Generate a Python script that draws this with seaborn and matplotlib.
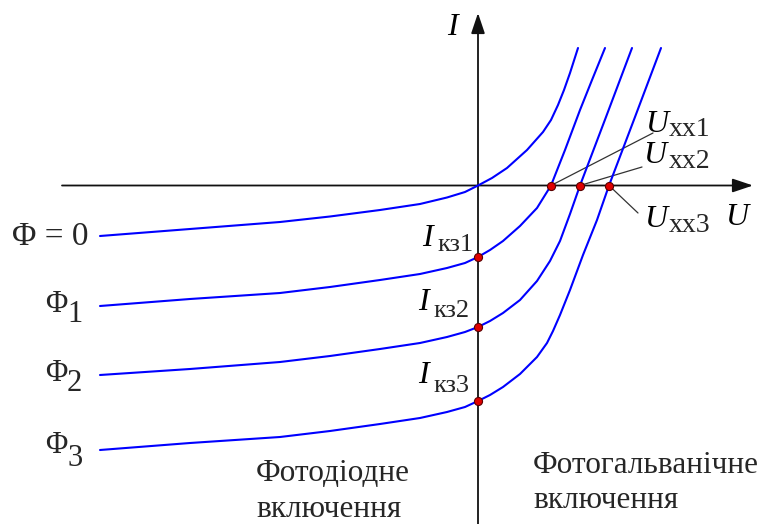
import matplotlib
matplotlib.use("Agg")
import matplotlib.pyplot as plt
import seaborn as sns
import pandas as pd

# Photodiode I-V characteristics for increasing light flux (Φ = 0, Φ1, Φ2, Φ3)
u_phi0 = [-3.78, -2.88, -1.98, -1.48, -0.98, -0.58, -0.31, -0.13, 0.00, 0.14,
          0.29, 0.49, 0.65, 0.73, 0.80, 0.86, 0.92, 1.00]
i_phi0 = [-0.505, -0.435, -0.365, -0.31, -0.245, -0.185, -0.12, -0.065, 0.0, 0.075,
          0.175, 0.355, 0.535, 0.655, 0.805, 0.955, 1.125, 1.375]

u_phi1 = [-3.78, -2.88, -1.98, -1.48, -0.98, -0.58, -0.31, -0.13, 0.00, 0.12,
          0.25, 0.42, 0.59, 0.73, 0.87, 1.02, 1.14, 1.27]
i_phi1 = [-1.205, -1.135, -1.075, -1.015, -0.945, -0.885, -0.825, -0.775, -0.715, -0.645,
          -0.555, -0.405, -0.225, 0.0, 0.355, 0.755, 1.055, 1.375]

u_phi2 = [-3.78, -2.88, -1.98, -1.48, -0.98, -0.58, -0.31, -0.13, 0.00, 0.12,
          0.25, 0.42, 0.59, 0.72, 0.82, 0.92, 1.02, 1.28, 1.54]
i_phi2 = [-1.895, -1.835, -1.765, -1.705, -1.635, -1.575, -1.515, -1.465, -1.415, -1.355,
          -1.275, -1.145, -0.955, -0.755, -0.555, -0.285, 0.0, 0.685, 1.375]

u_phi3 = [-3.78, -2.88, -1.98, -1.48, -0.98, -0.58, -0.31, -0.13, 0.00, 0.12,
          0.25, 0.42, 0.59, 0.69, 0.75, 0.82, 0.92, 1.05, 1.19, 1.31, 1.57, 1.83]
i_phi3 = [-2.645, -2.575, -2.515, -2.455, -2.385, -2.325, -2.265, -2.215, -2.155, -2.095,
          -2.015, -1.885, -1.715, -1.575, -1.455, -1.295, -1.045, -0.695, -0.345, 0.0, 0.685, 1.375]

# Short-circuit currents and open-circuit voltages
i_kz = [-0.715, -1.415, -2.155]
u_xx = [0.73, 1.02, 1.31]

flux_labels = ["Φ", "Φ", "Φ"]
flux_subs = ["1", "2", "3"]
isc_subs = ["кз1", "кз2", "кз3"]
uoc_subs = ["хх1", "хх2", "хх3"]

sns.set_theme(style="white")
plt.rcParams["font.family"] = ["Liberation Serif", "DejaVu Serif"]

fig = plt.figure(figsize=(7.65, 5.24), dpi=100)
ax = fig.add_axes([0, 0, 1, 1])
ax.set_xlim(-4.78, 2.87)
ax.set_ylim(-3.385, 1.855)
ax.axis("off")

# Coordinate axes with arrow heads
axis_kw = dict(arrowstyle="-|>,head_length=1.25,head_width=0.42", color="#111111",
               lw=1.3, mutation_scale=10, shrinkA=0, shrinkB=0)
ax.annotate("", xy=(2.75, 0), xytext=(-4.16, 0), arrowprops=axis_kw, zorder=2)
ax.annotate("", xy=(0, 1.725), xytext=(0, -3.385), arrowprops=axis_kw, zorder=2)

# Characteristic curves
curves = [(u_phi0, i_phi0), (u_phi1, i_phi1), (u_phi2, i_phi2), (u_phi3, i_phi3)]
for k, (u, i) in enumerate(curves):
    df = pd.DataFrame({"U": u, "I": i})
    sns.lineplot(data=df, x="U", y="I", sort=False, estimator=None, color="#0000ff",
                 lw=1.5, ax=ax, zorder=3)

# Leader lines to the open-circuit voltage labels
leader_ends = [(1.75, 0.525), (1.64, 0.185), (1.60, -0.275)]
for ux, (ex, ey) in zip(u_xx, leader_ends):
    ax.plot([ux, ex], [0, ey], color="#333333", lw=0.9, zorder=2)

# Marked points on the axes
pts = pd.DataFrame({"U": [0, 0, 0] + u_xx, "I": i_kz + [0, 0, 0]})
sns.scatterplot(data=pts, x="U", y="I", color="#e00000", edgecolor="#5a0000",
                linewidth=0.8, s=34, ax=ax, zorder=5)

main_fs = 23
ital = dict(style="italic", fontsize=main_fs, va="baseline", ha="left", color="black")

# Axis names
ax.text(-0.31, 1.505, "I", **ital)
ax.text(2.47, -0.395, "U", **ital)

# Open-circuit voltage labels
uoc_pos = [(1.67, 0.535, 0.50), (1.65, 0.225, 0.17), (1.66, -0.415, -0.47)]
for (x, yb, ys), s in zip(uoc_pos, uoc_subs):
    ax.text(x, yb, "U", **ital)
    ax.text(1.905, ys, s, fontsize=20, va="baseline", ha="left")

# Short-circuit current labels
isc_pos = [(-0.56, -0.605, -0.41, -0.655), (-0.60, -1.245, -0.45, -1.315),
           (-0.60, -1.975, -0.45, -2.065)]
for (x, yb, xs, ys), s in zip(isc_pos, isc_subs):
    ax.text(x, yb, "I", **ital)
    ax.text(xs, ys, s, fontsize=19, va="baseline", ha="left")

# Light flux labels
ax.text(-4.66, -0.595, "Φ = 0", fontsize=24, va="baseline", ha="left")
flux_pos = [(-1.265, -1.365), (-1.955, -2.055), (-2.675, -2.805)]
for (yb, ys), f, s in zip(flux_pos, flux_labels, flux_subs):
    ax.text(-4.33, yb, f, fontsize=22, va="baseline", ha="left")
    ax.text(-4.11, ys, s, fontsize=22, va="baseline", ha="left")

# Operating mode captions
cap_fs = 22.5
ax.text(-2.22, -2.955, "Фотодіодне", fontsize=cap_fs, va="baseline", ha="left")
ax.text(-2.22, -3.315, "включення", fontsize=cap_fs, va="baseline", ha="left")
ax.text(0.55, -2.875, "Фотогальванічне", fontsize=cap_fs, va="baseline", ha="left")
ax.text(0.55, -3.225, "включення", fontsize=cap_fs, va="baseline", ha="left")

fig.savefig("out.png", dpi=100)
